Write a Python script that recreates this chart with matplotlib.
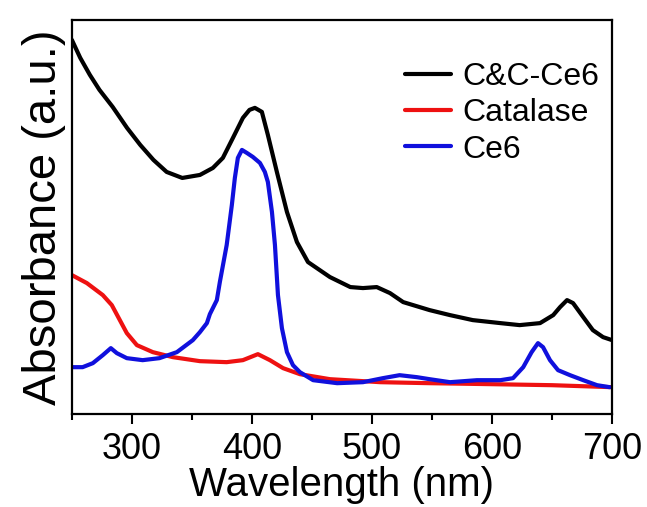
import matplotlib
matplotlib.use("Agg")
import matplotlib.pyplot as plt
from matplotlib.ticker import MultipleLocator, NullLocator

plt.rcParams["font.family"] = ["Liberation Sans", "DejaVu Sans"]

# C&C-Ce6
wl_cc = [250, 257, 265, 273, 284, 296, 307, 318, 329, 342, 356.7, 367.5, 375.8,
         384.2, 392.5, 398, 402.5, 408.3, 413.3, 420.8, 429.2, 437.5, 446.7, 465,
         482, 492.5, 504, 515, 526, 548, 565, 584, 607, 623, 640, 651, 656.7,
         662.5, 667.5, 676, 684, 692.5, 700]
abs_cc = [3.74, 3.56, 3.39, 3.24, 3.07, 2.86, 2.69, 2.54, 2.42, 2.36, 2.39, 2.46,
          2.56, 2.76, 2.96, 3.04, 3.06, 3.02, 2.79, 2.42, 2.02, 1.72, 1.52, 1.37,
          1.27, 1.26, 1.27, 1.21, 1.12, 1.04, 0.99, 0.94, 0.91, 0.89, 0.91, 0.99,
          1.07, 1.14, 1.11, 0.97, 0.84, 0.77, 0.74]

# Catalase
wl_cat = [250, 262.5, 275.8, 283.3, 290, 295.8, 304.2, 317.5, 334.2, 356.7, 379,
          392.5, 405, 415, 426, 440, 465, 507, 548, 600, 650, 700]
abs_cat = [1.39, 1.31, 1.19, 1.09, 0.94, 0.81, 0.69, 0.62, 0.57, 0.53, 0.52, 0.54,
           0.60, 0.54, 0.46, 0.40, 0.35, 0.32, 0.31, 0.30, 0.29, 0.27]

# Ce6
wl_ce6 = [250, 259, 267.5, 275.8, 282.5, 287.5, 295.8, 309, 323, 337.5, 350.8,
          356.7, 362.5, 365, 370.8, 373.3, 379, 383.3, 385.8, 388.3, 391.7, 395.8,
          400.8, 406.7, 410.8, 413.3, 416.7, 419.2, 421.7, 425, 429.2, 434.2, 440,
          451, 471, 492.5, 509, 523, 537.5, 548, 565, 587.5, 607, 617.5, 626, 633,
          638.3, 642.5, 648.3, 655, 665, 676, 687.5, 698]
abs_ce6 = [0.47, 0.47, 0.51, 0.59, 0.66, 0.61, 0.56, 0.54, 0.56, 0.62, 0.74,
           0.82, 0.91, 1.00, 1.14, 1.32, 1.69, 2.09, 2.36, 2.56, 2.64, 2.61,
           2.57, 2.51, 2.42, 2.32, 2.02, 1.69, 1.19, 0.86, 0.62, 0.49, 0.42,
           0.34, 0.31, 0.32, 0.36, 0.39, 0.37, 0.35, 0.32, 0.34, 0.34, 0.36, 0.47,
           0.62, 0.71, 0.67, 0.54, 0.44, 0.39, 0.34, 0.29, 0.27]

fig = plt.figure(figsize=(6.47, 5.07), dpi=100)
ax = fig.add_axes([0.111, 0.183, 0.835, 0.778])

lw = 3.0
ax.plot(wl_cc, abs_cc, color="black", lw=lw, label="C&C-Ce6",
        solid_joinstyle="round", solid_capstyle="round")
ax.plot(wl_cat, abs_cat, color="#ee1111", lw=lw, label="Catalase",
        solid_joinstyle="round", solid_capstyle="round")
ax.plot(wl_ce6, abs_ce6, color="#1010dd", lw=lw, label="Ce6",
        solid_joinstyle="round", solid_capstyle="round")

ax.set_xlim(250, 700)
ax.set_ylim(0, 3.94)
ax.xaxis.set_major_locator(MultipleLocator(100))
ax.xaxis.set_minor_locator(MultipleLocator(50))
ax.yaxis.set_major_locator(NullLocator())
ax.tick_params(axis="x", which="major", direction="out", length=7, width=1.5,
               labelsize=26, pad=6, top=False)
ax.tick_params(axis="x", which="minor", direction="out", length=4, width=1.5, top=False)
for s in ax.spines.values():
    s.set_linewidth(1.6)

ax.set_xlabel("Wavelength (nm)", fontsize=29, labelpad=-1)
ax.set_ylabel("Absorbance (a.u.)", fontsize=34, labelpad=4)

ax.legend(loc="upper right", frameon=False, fontsize=23, handlelength=1.45,
          handletextpad=0.35, labelspacing=0.2, borderaxespad=0.3,
          bbox_to_anchor=(1.018, 0.95))

fig.savefig("out.png", dpi=100)
